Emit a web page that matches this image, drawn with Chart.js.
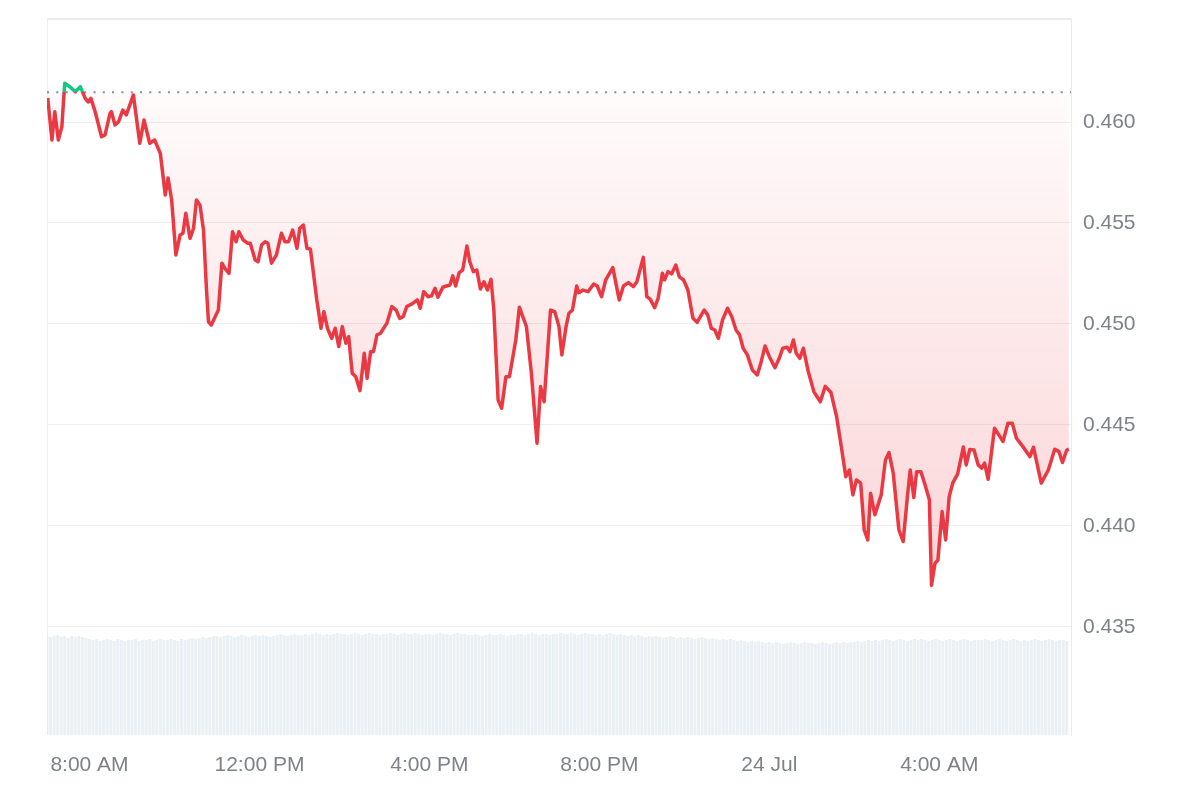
<!DOCTYPE html>
<html lang="en">
<head>
<meta charset="UTF-8">
<title>Price chart 24h</title>
<script src="https://cdn.jsdelivr.net/npm/chart.js@4.4.1/dist/chart.umd.min.js"></script>
<style>
  body { margin: 0; background: #fff; }
  #wrap { width: 1200px; height: 800px; }
</style>
</head>
<body>
<div id="wrap"><canvas id="priceChart"></canvas></div>
<script>
// minutes since 07:00 (23 Jul)
const priceMinutes = [
  1, 7, 11, 16, 21, 25, 32, 40, 47, 54, 58, 62, 68, 77, 82, 89, 91, 96, 101, 107,
  112, 122, 131, 137, 145, 152, 160, 167, 171, 176, 182, 188, 192, 196, 202, 207, 211, 216, 221, 225,
  228, 232, 242, 247, 251, 257, 262, 267, 271, 277, 283, 287, 294, 298, 303, 308, 312, 317, 324, 331,
  336, 341, 347, 353, 357, 362, 367, 372, 381, 387, 391, 396, 402, 407, 412, 417, 422, 426, 431, 436,
  442, 448, 452, 457, 461, 466, 471, 480, 487, 493, 498, 503, 508, 517, 523, 527, 532, 538, 543, 548,
  552, 559, 564, 569, 573, 577, 582, 587, 593, 597, 602, 607, 612, 617, 622, 627, 631, 637, 642, 648,
  653, 662, 667, 677, 684, 692, 697, 702, 711, 717, 723, 727, 733, 737, 742, 748, 751, 757, 764, 772,
  777, 783, 789, 799, 808, 814, 821, 828, 833, 842, 847, 852, 858, 863, 869, 872, 877, 882, 888, 893,
  899, 905, 912, 918, 928, 933, 938, 943, 948, 954, 961, 967, 973, 978, 983, 989, 996, 1003, 1008, 1014,
  1020, 1028, 1034, 1039, 1045, 1049, 1054, 1058, 1063, 1068, 1075, 1083, 1092, 1099, 1107, 1115, 1122, 1128, 1133, 1138,
  1143, 1149, 1154, 1159, 1163, 1169, 1178, 1184, 1189, 1195, 1203, 1209, 1215, 1219, 1224, 1228, 1234, 1240, 1246, 1249,
  1254, 1258, 1264, 1269, 1274, 1279, 1286, 1294, 1298, 1303, 1309, 1315, 1320, 1324, 1329, 1338, 1345, 1350, 1357, 1363,
  1369, 1378, 1388, 1393, 1404, 1414, 1423, 1429, 1434, 1440, 1443
];

const priceValues = [
  0.46119, 0.45911, 0.46051, 0.45911, 0.45977, 0.46192, 0.46175, 0.46150, 0.46175, 0.46117, 0.46100, 0.46117, 0.46051, 0.45927, 0.45936, 0.46043, 0.46051, 0.45985, 0.46001, 0.46059,
  0.46035, 0.46134, 0.45895, 0.46010, 0.45895, 0.45911, 0.45845, 0.45639, 0.45723, 0.45614, 0.45342, 0.45441, 0.45449, 0.45548, 0.45424, 0.45474, 0.45614, 0.45589, 0.45465, 0.45185,
  0.45011, 0.44995, 0.45069, 0.45301, 0.45276, 0.45251, 0.45457, 0.45407, 0.45457, 0.45416, 0.45400, 0.45400, 0.45317, 0.45308, 0.45391, 0.45407, 0.45400, 0.45301, 0.45342, 0.45449,
  0.45407, 0.45407, 0.45465, 0.45375, 0.45474, 0.45490, 0.45375, 0.45370, 0.45119, 0.44979, 0.45061, 0.44979, 0.44929, 0.44979, 0.44888, 0.44987, 0.44905, 0.44937, 0.44756, 0.44739,
  0.44670, 0.44855, 0.44731, 0.44863, 0.44863, 0.44946, 0.44954, 0.45004, 0.45086, 0.45069, 0.45028, 0.45036, 0.45086, 0.45103, 0.45119, 0.45078, 0.45160, 0.45135, 0.45139, 0.45177,
  0.45132, 0.45182, 0.45188, 0.45193, 0.45238, 0.45188, 0.45254, 0.45267, 0.45386, 0.45308, 0.45259, 0.45267, 0.45173, 0.45209, 0.45168, 0.45221, 0.45069, 0.44624, 0.44583, 0.44739,
  0.44739, 0.44921, 0.45083, 0.44987, 0.44756, 0.44410, 0.44690, 0.44615, 0.45069, 0.45061, 0.44987, 0.44847, 0.44987, 0.45053, 0.45069, 0.45188, 0.45155, 0.45168, 0.45160, 0.45198,
  0.45188, 0.45135, 0.45218, 0.45279, 0.45119, 0.45188, 0.45205, 0.45185, 0.45209, 0.45330, 0.45135, 0.45122, 0.45081, 0.45127, 0.45251, 0.45218, 0.45259, 0.45248, 0.45292, 0.45233,
  0.45218, 0.45168, 0.45030, 0.45008, 0.45069, 0.45045, 0.44979, 0.44970, 0.44929, 0.45020, 0.45078, 0.45036, 0.44970, 0.44946, 0.44880, 0.44847, 0.44772, 0.44748, 0.44806, 0.44891,
  0.44838, 0.44784, 0.44830, 0.44880, 0.44885, 0.44863, 0.44921, 0.44855, 0.44830, 0.44880, 0.44764, 0.44664, 0.44615, 0.44691, 0.44661, 0.44541, 0.44385, 0.44244, 0.44277, 0.44154,
  0.44228, 0.44212, 0.43980, 0.43931, 0.44162, 0.44055, 0.44154, 0.44327, 0.44363, 0.44261, 0.43980, 0.43923, 0.44145, 0.44277, 0.44141, 0.44269, 0.44269, 0.44203, 0.44129, 0.43706,
  0.43816, 0.43830, 0.44071, 0.43931, 0.44145, 0.44212, 0.44258, 0.44391, 0.44302, 0.44378, 0.44376, 0.44302, 0.44286, 0.44311, 0.44231, 0.44484, 0.44446, 0.44418, 0.44509, 0.44509,
  0.44434, 0.44393, 0.44343, 0.44390, 0.44212, 0.44277, 0.44380, 0.44368, 0.44314, 0.44376, 0.44380
];

// price 24h ago (dotted reference line)
const refPrice = 0.46147;

// volume, one bar every 5 minutes, one row per hour (relative units)
const volumeStep = 5;
const volumes = [
  99, 98, 99, 100, 98, 99, 97, 99, 98, 99, 98, 97,
  96, 95, 96, 94, 95, 96, 95, 94, 96, 95, 94, 95,
  95, 96, 94, 95, 95, 96, 94, 95, 96, 95, 95, 96,
  95, 94, 96, 95, 96, 97, 96, 97, 98, 97, 98, 99,
  99, 98, 99, 100, 99, 98, 99, 100, 99, 98, 99, 100,
  99, 100, 99, 98, 99, 100, 101, 100, 99, 100, 101, 100,
  100, 101, 100, 101, 102, 101, 100, 101, 100, 101, 102, 101,
  101, 100, 101, 102, 101, 100, 101, 102, 101, 101, 100, 101,
  101, 102, 101, 100, 101, 102, 101, 101, 102, 101, 100, 101,
  101, 100, 101, 102, 101, 101, 100, 101, 102, 101, 101, 100,
  100, 101, 100, 99, 100, 101, 100, 100, 101, 100, 99, 100,
  100, 101, 101, 100, 101, 102, 101, 100, 101, 101, 100, 101,
  101, 102, 101, 101, 102, 101, 100, 101, 102, 101, 101, 100,
  101, 100, 101, 102, 101, 100, 101, 100, 99, 100, 99, 100,
  99, 98, 99, 98, 99, 98, 97, 98, 99, 98, 97, 98,
  97, 98, 97, 96, 97, 98, 97, 96, 97, 96, 95, 96,
  95, 96, 95, 94, 95, 94, 93, 94, 93, 94, 93, 92,
  93, 92, 93, 92, 91, 92, 93, 92, 91, 92, 93, 92,
  92, 91, 92, 93, 92, 91, 92, 93, 92, 93, 92, 93,
  93, 94, 93, 94, 95, 94, 95, 94, 95, 96, 95, 94,
  95, 96, 95, 94, 95, 96, 95, 96, 95, 94, 95, 96,
  95, 94, 95, 96, 95, 94, 95, 96, 95, 94, 95, 95,
  95, 96, 95, 94, 95, 96, 95, 94, 95, 96, 95, 94,
  95, 94, 95, 96, 95, 94, 95, 96, 95, 94, 95, 95,
  94
];

const xTickMinutes = [60, 300, 540, 780, 1020, 1260];
const xTickLabels = ['8:00 AM', '12:00 PM', '4:00 PM', '8:00 PM', '24 Jul', '4:00 AM'];
const yTickValues = [0.435, 0.440, 0.445, 0.450, 0.455, 0.460];

const RED = '#ea3943';
const GREEN = '#16c784';
const labelFont = { family: '"Liberation Sans", Arial, Helvetica, sans-serif', size: 21 };

function splitAt(chart) {
    const a = chart.chartArea;
    const yRef = chart.scales.y.getPixelForValue(refPrice);
    return Math.min(Math.max((yRef - a.top) / (a.bottom - a.top), 0), 1);
}

function lineColor(context) {
    const chart = context.chart;
    if (!chart.chartArea) return RED;
    const a = chart.chartArea;
    const s = splitAt(chart);
    const g = chart.ctx.createLinearGradient(0, a.top, 0, a.bottom);
    g.addColorStop(0, GREEN);
    g.addColorStop(s, GREEN);
    g.addColorStop(s, RED);
    g.addColorStop(1, RED);
    return g;
}

function areaColor(context) {
    const chart = context.chart;
    if (!chart.chartArea) return 'rgba(234,57,67,0.08)';
    const a = chart.chartArea;
    const s = splitAt(chart);
    const g = chart.ctx.createLinearGradient(0, a.top, 0, a.bottom);
    g.addColorStop(0, 'rgba(22,199,132,0.12)');
    g.addColorStop(s, 'rgba(22,199,132,0.02)');
    g.addColorStop(s, 'rgba(234,57,67,0.02)');
    g.addColorStop(1, 'rgba(234,57,67,0.27)');
    return g;
}

// light frame on top and left of the plot
const framePlugin = {
    id: 'frame',
    beforeDatasetsDraw(chart) {
        const { ctx, chartArea: a } = chart;
        ctx.save();
        ctx.strokeStyle = '#ebebeb';
        ctx.lineWidth = 2;
        ctx.beginPath();
        ctx.moveTo(a.left, a.top);
        ctx.lineTo(a.right, a.top);
        ctx.stroke();
        ctx.lineWidth = 1;
        ctx.strokeStyle = '#efefef';
        ctx.beginPath();
        ctx.moveTo(a.left + 0.5, a.top);
        ctx.lineTo(a.left + 0.5, a.bottom);
        ctx.stroke();
        ctx.restore();
    }
};

const pricePoints = priceMinutes.map((m, i) => ({ x: m, y: priceValues[i] }));
const volumePoints = volumes.map((v, i) => ({ x: i * volumeStep, y: v }));
const xMax = 1446;

new Chart(document.getElementById('priceChart'), {
    data: {
        datasets: [
            {
                type: 'line',
                label: 'Price',
                data: pricePoints,
                borderColor: lineColor,
                backgroundColor: areaColor,
                borderWidth: 3.5,
                borderJoinStyle: 'round',
                pointRadius: 0,
                tension: 0,
                fill: { target: { value: refPrice } },
                yAxisID: 'y',
                order: 0
            },
            {
                type: 'line',
                label: 'Ref',
                data: [{ x: 0, y: refPrice }, { x: xMax, y: refPrice }],
                borderColor: '#8c8c8c',
                borderWidth: 2,
                borderDash: [2, 7.3],
                pointRadius: 0,
                fill: false,
                yAxisID: 'y',
                order: 1
            },
            {
                type: 'bar',
                label: 'Volume',
                data: volumePoints,
                backgroundColor: 'rgba(222,230,237,0.62)',
                barPercentage: 0.85,
                categoryPercentage: 1,
                grouped: false,
                yAxisID: 'yVol',
                order: 2
            }
        ]
    },
    options: {
        responsive: true,
        maintainAspectRatio: false,
        animation: false,
        layout: { padding: { left: 47, top: 19, right: 0, bottom: 0 } },
        plugins: {
            legend: { display: false },
            tooltip: { enabled: false }
        },
        scales: {
            x: {
                type: 'linear',
                min: 0,
                max: xMax,
                offset: false,
                grid: { display: false, drawTicks: false, offset: false },
                border: { display: false },
                afterBuildTicks: axis => { axis.ticks = xTickMinutes.map(v => ({ value: v })); },
                afterFit: axis => { axis.height = 65; axis.paddingLeft = 0; axis.paddingRight = 0; },
                ticks: {
                    padding: 18,
                    color: '#7d8289',
                    font: labelFont,
                    maxRotation: 0,
                    autoSkip: false,
                    callback: value => xTickLabels[xTickMinutes.indexOf(value)]
                }
            },
            y: {
                position: 'right',
                min: 0.42965,
                max: 0.4651,
                grid: { color: '#eeeeee', lineWidth: 1, drawTicks: false },
                border: { display: true, color: '#ebebeb', width: 1 },
                afterBuildTicks: axis => { axis.ticks = yTickValues.map(v => ({ value: v })); },
                afterFit: axis => { axis.width = 129; axis.paddingTop = 0; axis.paddingBottom = 0; },
                ticks: {
                    padding: 12,
                    color: '#7d8289',
                    font: labelFont,
                    callback: value => value.toFixed(3)
                }
            },
            yVol: {
                display: false,
                min: 0,
                max: 716
            }
        }
    },
    plugins: [framePlugin]
});
</script>
</body>
</html>
